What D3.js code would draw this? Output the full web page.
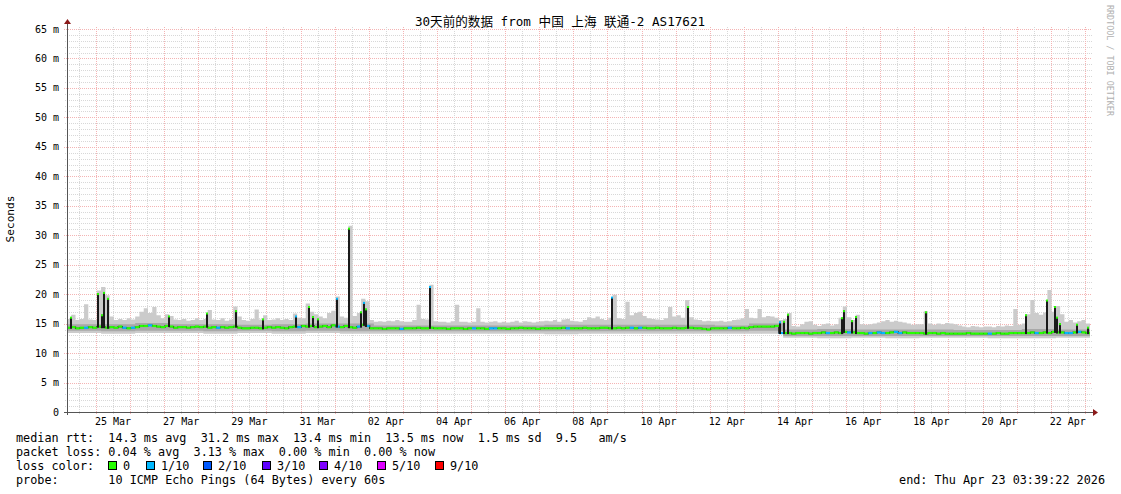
<!DOCTYPE html>
<html><head><meta charset="utf-8">
<script src="https://cdn.jsdelivr.net/npm/d3@7"></script>
<style>
body{margin:0;background:#fff}
svg{display:block}
text{font-family:"DejaVu Sans Mono","Noto Sans CJK SC",monospace;white-space:pre}
</style>
</head><body>
<svg id="c" width="1121" height="494"></svg>
<script>
// ---------------- DATA ----------------
const chartTitle = "30天前的数据 from 中国 上海 联通-2 AS17621";
const startTime = Date.UTC(2026, 2, 24, 3, 39, 22);
const endTime = Date.UTC(2026, 3, 23, 3, 39, 22);
const stepHours = 3; // one value every 3 hours, 8 per day

// median rtt (ms), 8 values per day
const median = [
  14.3,14.4,14.2,14.3,14.3,14.4,14.3,14.5,
  14.4,14.3,14.4,14.3,14.5,14.3,14.2,14.3,
  14.4,14.6,14.6,14.7,14.6,14.5,14.4,14.6,
  14.5,14.3,14.4,14.4,14.3,14.4,14.5,14.4,
  14.5,14.3,14.4,14.3,14.4,14.3,14.4,14.5,
  14.3,14.2,14.2,14.3,14.3,14.2,14.3,14.4,
  14.3,14.4,14.3,14.2,14.4,14.5,14.4,14.6,
  14.5,14.6,14.4,14.5,14.6,14.4,14.7,14.5,
  14.4,14.6,14.4,14.3,14.5,14.8,14.6,14.2,
  14.2,14.2,14.1,14.2,14.2,14.2,14.1,14.2,
  14.2,14.2,14.3,14.2,14.2,14.3,14.2,14.2,
  14.2,14.1,14.2,14.2,14.2,14.1,14.2,14.2,
  14.2,14.2,14.1,14.2,14.2,14.2,14.2,14.1,
  14.2,14.2,14.3,14.2,14.2,14.2,14.1,14.2,
  14.2,14.2,14.2,14.2,14.3,14.2,14.2,14.2,
  14.2,14.3,14.2,14.2,14.2,14.3,14.3,14.2,
  14.2,14.3,14.2,14.3,14.3,14.2,14.3,14.3,
  14.2,14.2,14.3,14.2,14.2,14.2,14.3,14.2,
  14.2,14.3,14.3,14.2,14.2,14.1,14.0,14.2,
  14.2,14.2,14.2,14.3,14.2,14.2,14.3,14.2,
  14.4,14.5,14.5,14.5,14.5,14.5,14.6,13.4,
  13.4,13.4,13.3,13.4,13.4,13.4,13.3,13.4,
  13.4,13.5,13.4,13.4,13.5,13.4,13.6,13.5,
  13.5,13.4,13.4,13.3,13.4,13.4,13.5,13.4,
  13.4,13.5,13.6,13.4,13.5,13.4,13.4,13.4,
  13.4,13.3,13.4,13.4,13.3,13.4,13.3,13.3,
  13.3,13.3,13.3,13.4,13.3,13.3,13.3,13.3,
  13.3,13.3,13.4,13.3,13.3,13.4,13.4,13.4,
  13.4,13.4,13.5,13.4,13.4,13.5,13.4,13.6,
  13.5,13.5,13.4,13.4,13.5,13.6,13.5,13.4
];

// loss bucket index of each median value (0 = 0 lost, 1 = 1/10 ...)
const lossBucket = [
  0,0,0,0,1,0,0,0,
  0,0,0,0,0,1,0,1,
  0,0,0,1,0,0,0,0,
  0,0,0,0,0,0,0,0,
  0,0,0,1,0,0,0,0,
  0,0,0,0,0,0,0,0,
  0,0,0,0,0,0,1,0,
  0,0,0,0,0,0,0,1,
  0,0,0,0,1,0,1,0,
  0,0,0,0,0,0,1,0,
  0,0,0,0,0,0,0,0,
  0,0,0,0,0,0,0,1,
  0,0,0,1,1,0,0,0,
  0,0,0,0,0,0,0,0,
  0,0,0,0,0,1,0,0,
  0,0,0,0,0,0,0,0,
  0,0,0,0,1,0,1,0,
  0,0,0,0,0,0,0,0,
  0,0,0,0,0,0,0,0,
  0,0,0,1,0,0,0,0,
  0,0,0,0,0,0,0,1,
  0,0,0,0,0,0,0,0,
  0,0,1,0,0,0,0,1,
  0,0,0,0,1,0,1,1,
  0,0,1,1,0,0,0,0,
  0,0,0,0,0,0,0,0,
  0,0,0,0,0,0,0,0,
  1,0,0,0,0,0,0,0,
  0,0,0,1,0,0,0,0,
  0,0,1,1,0,1,0,0
];

// top of the smoke (slowest ping, ms), 8 values per day
const smokeHi = [
  15.8,16.5,15.6,15.8,18.3,15.7,15.6,20.6,
  21.2,19.8,16.2,15.6,15.8,15.6,15.9,15.7,
  16.2,17.0,17.6,16.8,17.8,16.4,15.9,16.6,
  16.3,15.7,15.6,15.8,15.5,15.6,15.9,15.6,
  15.8,17.3,15.7,15.6,15.9,15.5,15.7,17.9,
  16.2,15.6,15.5,15.8,17.4,15.7,16.4,15.6,
  15.7,15.9,15.6,15.8,15.6,16.7,16.0,15.9,
  18.4,17.0,16.6,16.2,15.9,16.8,17.2,19.6,
  16.2,16.0,31.6,16.3,16.8,19.2,18.8,15.6,
  15.3,15.4,15.3,15.5,15.4,15.6,15.4,15.3,
  15.3,15.6,18.2,15.8,15.7,21.6,15.4,15.3,
  15.3,15.2,15.4,18.2,15.3,15.3,15.2,15.3,
  17.6,15.3,15.2,15.3,15.4,15.2,15.3,15.2,
  15.3,15.5,15.2,15.4,15.3,15.2,15.3,15.4,
  15.5,15.4,15.6,15.3,15.7,15.8,15.5,15.4,
  15.3,15.6,16.1,15.9,16.2,15.8,15.6,16.0,
  19.9,15.9,15.8,18.7,16.4,16.8,17.0,16.3,
  15.9,15.8,15.7,15.6,15.9,17.8,16.2,16.4,
  16.0,19.0,16.1,15.7,15.6,15.4,15.5,15.4,
  15.4,15.5,15.3,15.4,15.6,15.7,15.9,17.5,
  16.0,15.9,17.5,16.1,16.3,16.2,16.0,15.6,
  15.8,16.8,14.6,14.5,14.9,15.3,15.4,14.8,
  14.6,14.9,15.0,14.7,14.9,16.0,17.9,16.1,
  15.6,16.5,14.9,14.8,14.9,15.0,15.2,15.4,
  15.6,15.3,15.5,15.3,15.2,15.0,14.8,14.9,
  14.9,17.1,15.0,14.8,15.0,14.9,15.1,15.0,
  14.9,14.7,14.5,14.4,14.6,14.5,14.4,14.5,
  14.5,14.4,14.6,14.5,14.7,14.6,17.5,14.8,
  15.0,16.6,19.0,16.8,16.5,16.9,20.7,17.0,
  18.0,16.6,15.3,15.6,15.2,15.4,15.6,15.0
];

// daily smoke bottoms and the darker core band (ms), one per day
const smokeLo = [13.4,13.3,13.4,13.4,13.3,13.4,13.3,13.4,13.3,13.3,13.3,13.3,13.3,13.3,13.2,
                 13.3,13.3,13.3,13.3,13.3,13.3,12.6,12.5,12.6,12.5,12.6,12.6,12.5,12.5,12.6];
const coreLo  = [13.8,13.7,13.8,13.8,13.7,13.8,13.7,13.8,13.7,13.7,13.7,13.7,13.7,13.7,13.7,
                 13.7,13.7,13.7,13.7,13.7,13.8,12.9,12.9,12.9,12.9,12.9,12.9,12.9,12.9,12.9];
const coreHi  = [14.9,14.9,15.1,14.9,14.9,14.8,14.9,15.0,15.0,14.7,14.7,14.7,14.7,14.7,14.8,
                 14.8,14.8,14.8,14.8,14.7,15.0,14.0,14.1,14.0,14.0,14.0,13.9,13.9,14.1,14.0];

// short median spikes: hours after start, peak (ms), loss bucket at the peak
const spikeHours = [2.8,21.8,24.6,26.0,29.2,71.8,98.5,118.9,137.9,161.2,170.3,173.1,176.7,190.0,198.5,
                    206.9,209.0,210.4,255.4,383.6,437.1,501.8,504.6,507.4,545.5,546.9,552.5,555.3,
                    604.6,675.0,689.7,695.4,696.8,698.9,710.8,718.6];
const spikePeak  = [16.1,20.1,16.5,20.3,19.3,16.3,16.8,17.2,15.8,16.3,17.9,16.2,15.8,19.3,31.2,
                    17.0,18.6,17.5,21.3,19.5,17.9,15.3,15.4,16.6,16.0,17.2,15.5,16.2,
                    17.0,16.5,19.0,17.9,16.1,15.0,14.9,14.4];
const spikeLoss  = [0,0,0,0,0,0,0,0,0,1,0,0,0,1,0,0,1,0,1,1,0,1,0,0,0,0,0,0,0,0,0,0,0,0,0,0];

const yTickValues = [0,5,10,15,20,25,30,35,40,45,50,55,60,65];
const yTickLabels = ["0","5 m","10 m","15 m","20 m","25 m","30 m","35 m","40 m","45 m","50 m","55 m","60 m","65 m"];
const xTickLabels = ["25 Mar","27 Mar","29 Mar","31 Mar","02 Apr","04 Apr","06 Apr","08 Apr",
                     "10 Apr","12 Apr","14 Apr","16 Apr","18 Apr","20 Apr","22 Apr"];
const lossLabels = ["0","1/10","2/10","3/10","4/10","5/10","9/10"];
const lossColors = ["#26ff00","#00b8ff","#0059ff","#5e00ff","#7e00ff","#dd00ff","#ff0000"];
const legendLines = [
  "median rtt:  14.3 ms avg  31.2 ms max  13.4 ms min  13.5 ms now  1.5 ms sd  9.5   am/s",
  "packet loss: 0.04 % avg  3.13 % max  0.00 % min  0.00 % now",
  "loss color:",
  "probe:       10 ICMP Echo Pings (64 Bytes) every 60s"
];
const endLabel = "end: Thu Apr 23 03:39:22 2026";

// ---------------- DRAW ----------------
const svg = d3.select("#c");
const X0 = 67, X1 = 1090, Y0 = 412, Y1 = 29;
const x = d3.scaleUtc().domain([new Date(startTime), new Date(endTime)]).range([X0, X1]);
const y = d3.scaleLinear().domain([0, 65]).range([Y0, Y1]);
const H = 3600e3;
const tAt = i => new Date(startTime + i * stepHours * H);
const dayAt = d => new Date(startTime + d * 24 * H);

// grid
const grid = svg.append("g").attr("shape-rendering", "crispEdges").attr("stroke-dasharray", "1,1");
d3.range(1, 66).forEach(v => {
  const yy = Math.round(y(v)) + 0.5;
  const major = v % 5 === 0;
  grid.append("line").attr("x1", X0 - (major ? 3 : 2)).attr("x2", X1 + 2).attr("y1", yy).attr("y2", yy)
    .attr("stroke", major ? "#f4b4b4" : "#d8d8d8");
});
d3.utcHour.every(12).range(new Date(startTime), new Date(endTime)).forEach(t => {
  const xx = Math.round(x(t)) + 0.5;
  const major = t.getUTCHours() === 0;
  grid.append("line").attr("x1", xx).attr("x2", xx).attr("y1", Y1 - 2).attr("y2", Y0 + (major ? 3 : 2))
    .attr("stroke", major ? "#f4b4b4" : "#d8d8d8");
});

// smoke
const smokePts = median.map((_, i) => ({t: tAt(i), lo: smokeLo[Math.floor(i / 8)], hi: smokeHi[i]}));
smokePts.push({t: new Date(endTime), lo: smokePts[smokePts.length - 1].lo, hi: smokePts[smokePts.length - 1].hi});
svg.append("path").datum(smokePts)
  .attr("d", d3.area().x(d => x(d.t)).y0(d => y(d.lo)).y1(d => y(d.hi)).curve(d3.curveStepAfter))
  .attr("fill", "#cbcbcb");
const corePts = coreLo.map((v, d) => ({t: dayAt(d), lo: v, hi: coreHi[d]}));
corePts.push({t: new Date(endTime), lo: coreLo[coreLo.length - 1], hi: coreHi[coreHi.length - 1]});
svg.append("path").datum(corePts)
  .attr("d", d3.area().x(d => x(d.t)).y0(d => y(d.lo)).y1(d => y(d.hi)).curve(d3.curveStepAfter))
  .attr("fill", "#a8a8a8");

// median: black step line, then loss-coloured segments
const medPts = median.map((v, i) => ({t: tAt(i), v}));
medPts.push({t: new Date(endTime), v: median[median.length - 1]});
svg.append("path").datum(medPts)
  .attr("d", d3.line().x(d => x(d.t)).y(d => y(d.v)).curve(d3.curveStepAfter))
  .attr("fill", "none").attr("stroke", "#111").attr("stroke-width", 1.2);
svg.append("g").selectAll("line").data(median).join("line")
  .attr("x1", (v, i) => x(tAt(i))).attr("x2", (v, i) => x(i + 1 < median.length ? tAt(i + 1) : new Date(endTime)))
  .attr("y1", v => y(v)).attr("y2", v => y(v))
  .attr("stroke", (v, i) => lossColors[lossBucket[i]]).attr("stroke-width", 2.2);

// spikes
const spikes = spikeHours.map((h, k) => {
  const t = new Date(startTime + h * H);
  const idx = Math.min(median.length - 1, Math.floor(h / stepHours));
  return {t, peak: spikePeak[k], base: median[idx], loss: spikeLoss[k]};
});
const sg = svg.append("g");
sg.selectAll("rect.sp").data(spikes).join("rect").attr("class", "sp")
  .attr("x", d => Math.round(x(d.t)) - 1).attr("width", 2)
  .attr("y", d => y(d.peak)).attr("height", d => y(d.base) - y(d.peak) + 1)
  .attr("fill", "#1a1a1a");
sg.selectAll("rect.cap").data(spikes).join("rect").attr("class", "cap")
  .attr("x", d => Math.round(x(d.t)) - 1).attr("width", 2)
  .attr("y", d => y(d.peak) - 0.5).attr("height", 2)
  .attr("fill", d => lossColors[d.loss]);

// axes
const ax = svg.append("g").attr("shape-rendering", "crispEdges");
ax.append("line").attr("x1", X0 + 0.5).attr("x2", X0 + 0.5).attr("y1", Y0 + 3).attr("y2", 22).attr("stroke", "#555");
ax.append("line").attr("x1", X0 - 3).attr("x2", 1093).attr("y1", Y0 + 0.5).attr("y2", Y0 + 0.5).attr("stroke", "#555");
svg.append("path").attr("d", `M${X0 - 3},24 L${X0 + 4},24 L${X0 + 0.5},19 Z`).attr("fill", "#8b1a1a");
svg.append("path").attr("d", `M1093,${Y0 - 3} L1093,${Y0 + 4} L1098,${Y0 + 0.5} Z`).attr("fill", "#8b1a1a");

// y labels
svg.append("g").selectAll("text").data(yTickValues).join("text")
  .attr("x", 59).attr("y", v => y(v) + 3.5).attr("text-anchor", "end")
  .attr("font-size", 10).attr("fill", "#000").text((v, i) => yTickLabels[i]);

// x labels (centred at noon of each labelled day)
const firstLabelDay = Date.UTC(2026, 2, 25);
svg.append("g").selectAll("text").data(xTickLabels).join("text")
  .attr("x", (s, k) => x(new Date(firstLabelDay + (2 * k * 24 + 12) * H)))
  .attr("y", 425).attr("text-anchor", "middle").attr("font-size", 10).attr("fill", "#000").text(s => s);

// titles
svg.append("text").attr("x", 560).attr("y", 26).attr("text-anchor", "middle")
  .attr("font-size", 12.6).attr("fill", "#000").text(chartTitle);
svg.append("text").attr("transform", "translate(14,219) rotate(-90)").attr("text-anchor", "middle")
  .attr("font-size", 11.2).attr("fill", "#000").text("Seconds");
svg.append("text").attr("transform", "translate(1107,5) rotate(90)")
  .attr("font-size", 8.4).attr("fill", "#b0b0b0").text("RRDTOOL / TOBI OETIKER");

// legend
const legY = [442, 456, 470, 484];
legendLines.forEach((s, k) => {
  svg.append("text").attr("x", 16).attr("y", legY[k]).attr("font-size", 11.8).attr("fill", "#000")
    .attr("xml:space", "preserve").text(s);
});
const boxX = [108, 146, 203, 262, 319, 377, 435];
lossLabels.forEach((lab, k) => {
  svg.append("rect").attr("x", boxX[k] + 0.5).attr("y", 461.5).attr("width", 8).attr("height", 8)
    .attr("fill", lossColors[k]).attr("stroke", "#000").attr("shape-rendering", "crispEdges");
  svg.append("text").attr("x", boxX[k] + 15).attr("y", 470).attr("font-size", 11.8).attr("fill", "#000").text(lab);
});
svg.append("text").attr("x", 1105).attr("y", 484).attr("text-anchor", "end")
  .attr("font-size", 11.8).attr("fill", "#000").text(endLabel);
</script>
</body></html>
